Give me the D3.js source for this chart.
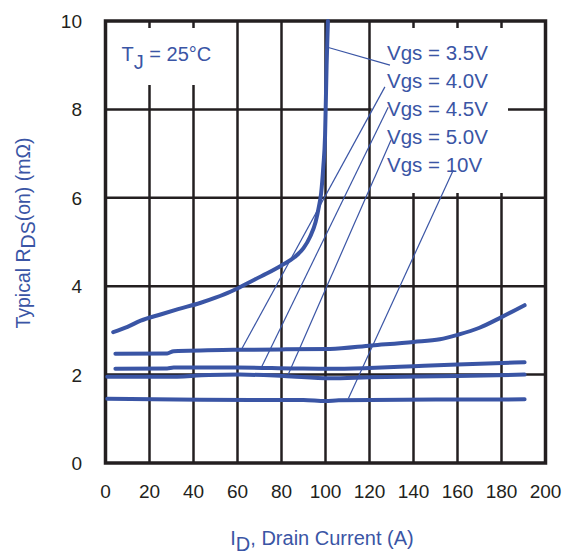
<!DOCTYPE html>
<html>
<head>
<meta charset="utf-8">
<script src="https://cdn.jsdelivr.net/npm/d3@7"></script>
<style>
  body { margin: 0; background: #fff; }
  svg { display: block; font-family: Arial, "Liberation Sans", Helvetica, sans-serif; }
</style>
</head>
<body>
<svg id="chart" width="577" height="557"></svg>
<script>
// drain current (A) vs typical RDS(on) (mOhm), one array per gate voltage
var vgs35 = [[3.5,2.96],[10,3.08],[16,3.22],[25,3.36],[33,3.48],[43,3.62],[50,3.74],[57,3.88],[65,4.08],[73,4.28],[80,4.47],[86,4.66],[90,4.86],[93,5.12],[95.5,5.45],[97,5.8],[98,6.1],[99,6.7],[99.8,7.4],[100.5,9],[101.1,10]];
var vgs40 = [[4.5,2.47],[28,2.48],[31,2.53],[58,2.56],[80,2.57],[102,2.58],[121,2.66],[140,2.74],[152,2.8],[160,2.9],[170,3.06],[180,3.3],[190.5,3.57]];
var vgs45 = [[4.5,2.13],[28,2.14],[31,2.16],[60,2.16],[85,2.14],[102,2.13],[120,2.15],[140,2.19],[160,2.23],[190.5,2.28]];
var vgs50 = [[0.8,1.95],[28,1.95],[47,1.99],[61,2.0],[81,1.97],[102,1.92],[120,1.94],[160,1.97],[190.5,2.0]];
var vgs10 = [[0.8,1.455],[43,1.43],[90,1.425],[100,1.4],[106,1.42],[150,1.435],[190.5,1.44]];

var seriesLabels = ['Vgs = 3.5V', 'Vgs = 4.0V', 'Vgs = 4.5V', 'Vgs = 5.0V', 'Vgs = 10V'];
// leader line from label [x, y] to curve [x, y], data units
var leaders = [
  [[129.3, 9.0], [101.3, 9.4]],
  [[127, 8.51], [61.9, 2.58]],
  [[128.5, 8.05], [71, 2.18]],
  [[129.8, 7.31], [83.1, 2.01]],
  [[158.1, 6.63], [110.4, 1.46]]
];
var xTicks = [0, 20, 40, 60, 80, 100, 120, 140, 160, 180, 200];
var yTicks = [0, 2, 4, 6, 8, 10];

var blue = '#3a55a5', ink = '#231f20';
var svg = d3.select('#chart');

var x = d3.scaleLinear().domain([0, 200]).range([105.5, 545.5]);
var y = d3.scaleLinear().domain([0, 10]).range([463, 21]);

// grid
var grid = svg.append('g');
grid.selectAll('.vg').data(xTicks.slice(1, -1)).enter().append('line')
  .attr('x1', function(d){ return x(d); }).attr('x2', function(d){ return x(d); })
  .attr('y1', y(10)).attr('y2', y(0))
  .attr('stroke', ink).attr('stroke-width', 2.5);
grid.selectAll('.hg').data(yTicks.slice(1, -1)).enter().append('line')
  .attr('x1', x(0)).attr('x2', x(200))
  .attr('y1', function(d){ return y(d); }).attr('y2', function(d){ return y(d); })
  .attr('stroke', ink).attr('stroke-width', 2.5);

// clear the grid behind the text blocks (leaves short ticks at top)
svg.append('rect').attr('x', x(0) + 2).attr('y', 28).attr('width', x(60) - x(0) - 4).attr('height', 57).attr('fill', '#fff');
svg.append('rect').attr('x', x(120) + 2).attr('y', 28).attr('width', 508 - x(120) - 2).attr('height', 165).attr('fill', '#fff');

// frame
svg.append('rect').attr('x', x(0)).attr('y', y(10))
  .attr('width', x(200) - x(0)).attr('height', y(0) - y(10))
  .attr('fill', 'none').attr('stroke', ink).attr('stroke-width', 3.5);

// tick labels
svg.selectAll('.xt').data(xTicks).enter().append('text')
  .attr('x', function(d){ return x(d); }).attr('y', 498)
  .attr('text-anchor', 'middle').attr('font-size', 19).attr('fill', ink)
  .text(function(d){ return d; });
svg.selectAll('.yt').data(yTicks).enter().append('text')
  .attr('x', 82).attr('y', function(d){ return y(d) + 7; })
  .attr('text-anchor', 'end').attr('font-size', 19).attr('fill', ink)
  .text(function(d){ return d; });

// curves
var line = d3.line()
  .x(function(d){ return x(d[0]); })
  .y(function(d){ return y(d[1]); })
  .curve(d3.curveMonotoneX);
[vgs35, vgs40, vgs45, vgs50, vgs10].forEach(function(s){
  svg.append('path').attr('d', line(s))
    .attr('fill', 'none').attr('stroke', blue)
    .attr('stroke-width', 4).attr('stroke-linecap', 'round');
});

// leaders
svg.selectAll('.ld').data(leaders).enter().append('line')
  .attr('x1', function(d){ return x(d[0][0]); }).attr('y1', function(d){ return y(d[0][1]); })
  .attr('x2', function(d){ return x(d[1][0]); }).attr('y2', function(d){ return y(d[1][1]); })
  .attr('stroke', blue).attr('stroke-width', 1.2);

// series labels
svg.selectAll('.sl').data(seriesLabels).enter().append('text')
  .attr('x', 387).attr('y', function(d, i){ return 60 + i * 28; })
  .attr('font-size', 20.5).attr('fill', blue)
  .text(function(d){ return d; });

// Tj note
var tj = svg.append('text').attr('x', 121.5).attr('y', 61)
  .attr('font-size', 20).attr('fill', blue);
tj.append('tspan').text('T');
tj.append('tspan').attr('dy', 8).text('J');
tj.append('tspan').attr('dy', -8).text(' = 25°C');

// axis titles
var xt = svg.append('text').attr('x', 322).attr('y', 545)
  .attr('text-anchor', 'middle').attr('font-size', 20).attr('fill', blue);
xt.append('tspan').text('I');
xt.append('tspan').attr('dy', 6).text('D');
xt.append('tspan').attr('dy', -6).text(', Drain Current (A)');

var yt = svg.append('text').attr('transform', 'translate(30,233) rotate(-90)')
  .attr('text-anchor', 'middle').attr('font-size', 19.5).attr('fill', blue);
yt.append('tspan').text('Typical R');
yt.append('tspan').attr('dy', 5).text('DS');
yt.append('tspan').attr('dy', -5).text('(on) (mΩ)');
</script>
</body>
</html>
